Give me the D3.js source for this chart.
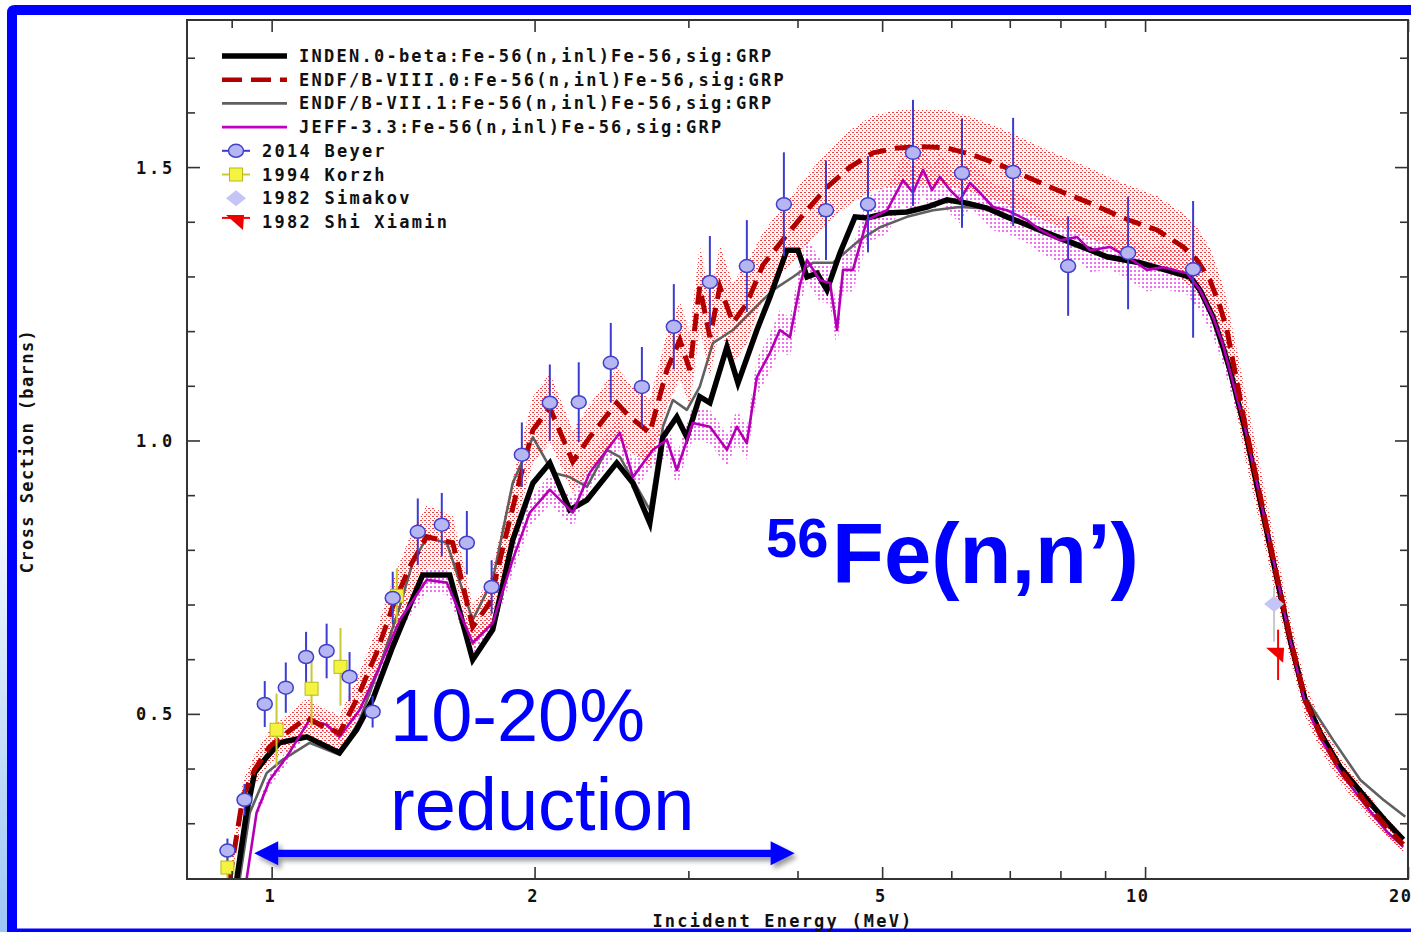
<!DOCTYPE html>
<html>
<head>
<meta charset="utf-8">
<script src="https://cdn.jsdelivr.net/npm/d3@7"></script>
<style>
  html, body { margin: 0; padding: 0; background: #fff; overflow: hidden; }
  svg { display: block; }
</style>
</head>
<body>
<svg id="chart" width="1411" height="932"></svg>
<script>
// ---------------- Evaluated cross sections (E in MeV, sigma in barns) ----------------
const indenE  = [0.912, 0.936, 0.956, 0.987, 1.021, 1.097, 1.196, 1.251, 1.305, 1.376, 1.428, 1.489, 1.599, 1.699, 1.791, 1.888, 1.991, 2.082, 2.194, 2.296, 2.484, 2.592, 2.710, 2.805, 2.910, 2.988, 3.091, 3.175, 3.321, 3.419, 3.594, 3.719, 3.890, 4.005, 4.101, 4.211, 4.323, 4.474, 4.655, 4.804, 5.065, 5.339, 5.628, 5.933, 6.254, 6.592, 6.950, 7.583, 8.272, 9.047, 9.869, 10.77, 11.26, 11.56, 11.96, 12.28, 12.51, 13.02, 13.54, 14.09, 14.66, 15.25, 15.87, 16.72, 17.97, 18.93, 19.75];
const indenXS = [0.197, 0.319, 0.392, 0.421, 0.447, 0.458, 0.429, 0.471, 0.526, 0.623, 0.685, 0.754, 0.754, 0.599, 0.654, 0.818, 0.922, 0.959, 0.873, 0.891, 0.959, 0.922, 0.849, 1.006, 1.043, 1.006, 1.080, 1.069, 1.171, 1.105, 1.202, 1.262, 1.348, 1.348, 1.299, 1.306, 1.275, 1.343, 1.409, 1.407, 1.416, 1.418, 1.427, 1.440, 1.434, 1.425, 1.409, 1.385, 1.361, 1.336, 1.325, 1.308, 1.299, 1.275, 1.226, 1.171, 1.129, 1.019, 0.891, 0.763, 0.635, 0.526, 0.465, 0.403, 0.343, 0.301, 0.270];

const endf8E  = [0.895, 0.927, 0.956, 0.995, 1.040, 1.097, 1.135, 1.196, 1.251, 1.319, 1.376, 1.439, 1.505, 1.612, 1.699, 1.777, 1.849, 1.923, 1.991, 2.082, 2.212, 2.313, 2.484, 2.571, 2.710, 2.835, 2.933, 3.011, 3.091, 3.175, 3.260, 3.374, 3.500, 3.652, 3.849, 4.101, 4.323, 4.594, 4.881, 5.200, 5.569, 5.933, 6.353, 6.823, 7.328, 7.931, 8.650, 9.437, 10.32, 11.06, 11.47, 11.87, 12.19, 12.41, 13.02, 13.54, 14.09, 14.66, 15.25, 15.87, 16.72, 17.97, 18.93, 19.75];
const endf8XS = [0.197, 0.348, 0.398, 0.440, 0.465, 0.493, 0.480, 0.465, 0.526, 0.612, 0.696, 0.769, 0.824, 0.813, 0.659, 0.703, 0.818, 0.928, 1.019, 1.060, 0.961, 1.006, 1.069, 1.043, 1.014, 1.129, 1.184, 1.129, 1.281, 1.189, 1.281, 1.215, 1.251, 1.321, 1.367, 1.421, 1.463, 1.500, 1.526, 1.535, 1.537, 1.535, 1.522, 1.504, 1.482, 1.458, 1.434, 1.407, 1.385, 1.354, 1.330, 1.293, 1.244, 1.202, 1.028, 0.900, 0.767, 0.639, 0.526, 0.462, 0.398, 0.334, 0.292, 0.261];
// relative uncertainty of ENDF/B-VIII.0 (covariance band)
const endf8Unc = [0.10, 0.08, 0.07, 0.07, 0.07, 0.07, 0.07, 0.07, 0.07, 0.07, 0.07, 0.07, 0.07,
                  0.06, 0.06, 0.06, 0.06, 0.06, 0.06, 0.06, 0.06, 0.06, 0.06, 0.06, 0.06, 0.06, 0.06, 0.06, 0.06, 0.06, 0.06, 0.06, 0.06,
                  0.045, 0.045, 0.045, 0.045, 0.045, 0.045, 0.045, 0.045, 0.045, 0.045, 0.045, 0.045, 0.045, 0.045, 0.045, 0.045, 0.045, 0.045, 0.045, 0.045, 0.045,
                  0.06, 0.06, 0.06, 0.06, 0.06, 0.06, 0.06, 0.06, 0.06, 0.06];

const endf71E  = [0.919, 0.944, 0.987, 1.029, 1.105, 1.196, 1.261, 1.329, 1.402, 1.450, 1.505, 1.587, 1.629, 1.699, 1.791, 1.888, 1.991, 2.099, 2.194, 2.296, 2.419, 2.504, 2.592, 2.710, 2.805, 2.880, 2.988, 3.091, 3.200, 3.374, 3.556, 3.749, 3.952, 4.167, 4.392, 4.716, 4.972, 5.339, 5.718, 6.140, 6.523, 6.950, 7.583, 8.272, 9.047, 9.869, 10.77, 11.26, 11.56, 11.96, 12.28, 13.02, 13.54, 14.09, 14.66, 15.25, 16.42, 17.64, 18.74, 19.86];
const endf71XS = [0.197, 0.319, 0.392, 0.416, 0.447, 0.425, 0.489, 0.586, 0.696, 0.776, 0.822, 0.813, 0.758, 0.672, 0.745, 0.922, 1.006, 0.941, 0.933, 0.915, 0.983, 0.970, 0.928, 0.873, 1.025, 1.074, 1.056, 1.098, 1.178, 1.202, 1.239, 1.275, 1.299, 1.325, 1.325, 1.367, 1.390, 1.409, 1.421, 1.427, 1.425, 1.407, 1.381, 1.357, 1.334, 1.323, 1.306, 1.297, 1.271, 1.220, 1.166, 1.016, 0.888, 0.760, 0.635, 0.531, 0.452, 0.379, 0.343, 0.312];

const jeffE  = [0.936, 0.961, 0.995, 1.040, 1.105, 1.156, 1.196, 1.261, 1.329, 1.402, 1.505, 1.587, 1.699, 1.791, 1.888, 1.975, 2.082, 2.212, 2.313, 2.504, 2.592, 2.732, 2.835, 2.910, 3.035, 3.175, 3.321, 3.409, 3.500, 3.594, 3.719, 3.818, 3.921, 4.026, 4.101, 4.244, 4.358, 4.439, 4.510, 4.630, 4.804, 5.065, 5.283, 5.424, 5.569, 5.702, 5.824, 5.980, 6.140, 6.304, 6.471, 6.698, 6.950, 7.328, 7.583, 7.993, 8.360, 8.650, 9.119, 9.537, 10.05, 10.49, 11.17, 11.56, 11.96, 12.28, 13.02, 13.54, 14.09, 14.66, 15.25, 15.87, 16.72, 17.97, 18.93, 19.75];
const jeffXS = [0.197, 0.319, 0.379, 0.421, 0.489, 0.480, 0.458, 0.507, 0.586, 0.672, 0.745, 0.740, 0.630, 0.666, 0.782, 0.868, 0.910, 0.868, 0.941, 1.014, 0.933, 0.983, 1.001, 0.946, 1.032, 1.025, 0.983, 1.025, 0.995, 1.116, 1.160, 1.202, 1.189, 1.284, 1.330, 1.293, 1.288, 1.202, 1.312, 1.312, 1.403, 1.421, 1.476, 1.453, 1.495, 1.458, 1.482, 1.458, 1.440, 1.471, 1.453, 1.427, 1.421, 1.403, 1.385, 1.366, 1.372, 1.348, 1.354, 1.336, 1.312, 1.317, 1.306, 1.275, 1.226, 1.175, 1.022, 0.895, 0.767, 0.635, 0.520, 0.456, 0.394, 0.328, 0.284, 0.257];
// relative uncertainty of JEFF-3.3
const jeffUnc = 0.03;

// ---------------- Experimental data ----------------
const beyerE   = [0.890, 0.931, 0.982, 1.038, 1.095, 1.156, 1.228, 1.305, 1.376, 1.470, 1.566, 1.673, 1.786, 1.934, 2.082, 2.247, 2.445, 2.654, 2.887, 3.175, 3.500, 3.859, 4.312, 4.817, 5.424, 6.172, 7.062, 8.164, 9.562, 11.35];
const beyerXS  = [0.250, 0.343, 0.518, 0.548, 0.604, 0.615, 0.568, 0.504, 0.712, 0.833, 0.846, 0.813, 0.732, 0.974, 1.069, 1.070, 1.142, 1.098, 1.208, 1.290, 1.319, 1.432, 1.421, 1.432, 1.526, 1.489, 1.491, 1.319, 1.343, 1.313];
const beyerErr = [0.022, 0.029, 0.042, 0.046, 0.046, 0.050, 0.045, 0.029, 0.048, 0.061, 0.058, 0.058, 0.049, 0.059, 0.070, 0.073, 0.073, 0.073, 0.078, 0.084, 0.084, 0.095, 0.091, 0.088, 0.097, 0.100, 0.099, 0.091, 0.103, 0.125];

const korzhE   = [0.890, 1.013, 1.111, 1.199, 1.391];
const korzhXS  = [0.219, 0.471, 0.546, 0.586, 0.716];
const korzhErr = [0.020, 0.066, 0.068, 0.071, 0.050];

const simakovE     = [14.05];
const simakovXS    = [0.701];
const simakovErrLo = [0.069];
const simakovErrHi = [0.031];

const shiE   = [14.20];
const shiXS  = [0.608];
const shiErr = [0.046];

// ---------------- Axis ticks and labels ----------------
const xMajorTicks = [1, 2, 5, 10, 20];
const xMinorTicks = [0.9, 3, 4, 6, 7, 8, 9];
const yMajorTicks = [0.5, 1.0, 1.5];
const yMinorTicks = [0.3, 0.4, 0.6, 0.7, 0.8, 0.9, 1.1, 1.2, 1.3, 1.4, 1.6, 1.7];
const xTitle = "Incident Energy (MeV)";
const yTitle = "Cross Section (barns)";

const legendLabels = [
  "INDEN.0-beta:Fe-56(n,inl)Fe-56,sig:GRP",
  "ENDF/B-VIII.0:Fe-56(n,inl)Fe-56,sig:GRP",
  "ENDF/B-VII.1:Fe-56(n,inl)Fe-56,sig:GRP",
  "JEFF-3.3:Fe-56(n,inl)Fe-56,sig:GRP",
  "2014 Beyer",
  "1994 Korzh",
  "1982 Simakov",
  "1982 Shi Xiamin"
];

// annotation arrow span (MeV) and height (barns)
const arrowFromE = 0.955, arrowToE = 3.97, arrowXS = 0.245;

// ---------------- Drawing ----------------
const svg = d3.select("#chart");
const W = 1411, H = 932;
const plot = { left: 187, right: 1408, top: 20, bottom: 879 };
const MONO = "'DejaVu Sans Mono', 'Liberation Mono', monospace";
const SANS = "'Liberation Sans', Arial, Helvetica, sans-serif";
const BLUE = "#0000ff";

const x = d3.scaleLog().domain([0.8, 20]).range([plot.left, plot.right]);
const y = d3.scaleLinear().domain([0.198, 1.769]).range([plot.bottom, plot.top]);

const defs = svg.append("defs");
defs.append("clipPath").attr("id", "plotClip")
  .append("rect").attr("x", plot.left).attr("y", plot.top)
  .attr("width", plot.right - plot.left).attr("height", plot.bottom - plot.top);

// stippled fills for the uncertainty bands
function dotPattern(id, color, size, dots) {
  const p = defs.append("pattern").attr("id", id)
    .attr("patternUnits", "userSpaceOnUse").attr("width", 4).attr("height", 4);
  dots.forEach(([dx, dy]) => p.append("rect").attr("x", dx).attr("y", dy)
    .attr("width", size).attr("height", size).attr("fill", color).attr("shape-rendering", "crispEdges"));
}
dotPattern("redDots", "#e81010", 1, [[0, 0], [2, 2], [1, 0]]);
dotPattern("pinkDots", "#f070f0", 2, [[2, 2]]);

const edgeGrad = defs.append("linearGradient").attr("id", "edgeGrad")
  .attr("x1", 0).attr("y1", 0).attr("x2", 0).attr("y2", 1);
edgeGrad.append("stop").attr("offset", "0%").attr("stop-color", "#ffffff");
edgeGrad.append("stop").attr("offset", "50%").attr("stop-color", "#ffffff");
edgeGrad.append("stop").attr("offset", "100%").attr("stop-color", "#9cc6f6");

const shadow = defs.append("filter").attr("id", "arrowShadow")
  .attr("x", "-10%").attr("y", "-100%").attr("width", "120%").attr("height", "300%");
shadow.append("feDropShadow").attr("dx", 3).attr("dy", 4).attr("stdDeviation", 2.5)
  .attr("flood-color", "#000").attr("flood-opacity", 0.4);

// page background and blue slide frame
svg.append("rect").attr("width", W).attr("height", H).attr("fill", "#fff");
svg.append("rect").attr("x", 0).attr("y", 0).attr("width", 7).attr("height", H).attr("fill", "url(#edgeGrad)");
svg.append("path").attr("fill", BLUE)
  .attr("d", `M7,${H} L7,13 Q7,5 15,5 L${W},5 L${W},15 L17,15 L17,${H} Z`);
svg.append("rect").attr("x", 7).attr("y", 928.5).attr("width", W - 7).attr("height", 3.5).attr("fill", BLUE);

// ---------------- data layers ----------------
const layer = svg.append("g").attr("clip-path", "url(#plotClip)");

const line = d3.line().x(d => x(d[0])).y(d => y(d[1]));
const band = d3.area().x(d => x(d[0]))
  .y0(d => y(d[1] * (1 - d[2]))).y1(d => y(d[1] * (1 + d[2])));

const endf8Pts = d3.zip(endf8E, endf8XS, endf8Unc);
const jeffPts = jeffE.map((e, i) => [e, jeffXS[i], jeffUnc]);

layer.append("path").datum(jeffPts).attr("d", band).attr("fill", "url(#pinkDots)");
layer.append("path").datum(endf8Pts).attr("d", band).attr("fill", "url(#redDots)").attr("opacity", 0.8);

layer.append("path").datum(d3.zip(endf71E, endf71XS)).attr("d", line)
  .attr("fill", "none").attr("stroke", "#606060").attr("stroke-width", 2.6).attr("stroke-linejoin", "round");
layer.append("path").datum(d3.zip(indenE, indenXS)).attr("d", line)
  .attr("fill", "none").attr("stroke", "#000").attr("stroke-width", 5.5).attr("stroke-linejoin", "miter");
layer.append("path").datum(d3.zip(jeffE, jeffXS)).attr("d", line)
  .attr("fill", "none").attr("stroke", "#b400b4").attr("stroke-width", 2.6).attr("stroke-linejoin", "round");
layer.append("path").datum(d3.zip(endf8E, endf8XS)).attr("d", line)
  .attr("fill", "none").attr("stroke", "#b00000").attr("stroke-width", 5)
  .attr("stroke-dasharray", "18,9");

// error bars + markers
function errorBars(g, E, XS, lo, hi, color) {
  g.selectAll(null).data(d3.range(E.length)).join("line")
    .attr("x1", i => x(E[i])).attr("x2", i => x(E[i]))
    .attr("y1", i => y(XS[i] - lo[i])).attr("y2", i => y(XS[i] + hi[i]))
    .attr("stroke", color).attr("stroke-width", 2);
}
const marks = svg.append("g").attr("clip-path", "url(#plotClip)");

errorBars(marks, korzhE, korzhXS, korzhErr, korzhErr, "#c8c830");
errorBars(marks, beyerE, beyerXS, beyerErr, beyerErr, "#3c3cd0");
errorBars(marks, simakovE, simakovXS, simakovErrLo, simakovErrHi, "#c8c8c8");
errorBars(marks, shiE, shiXS, shiErr, shiErr, "#ff0000");

marks.selectAll(null).data(d3.range(korzhE.length)).join("rect")
  .attr("x", i => x(korzhE[i]) - 6.5).attr("y", i => y(korzhXS[i]) - 6.5)
  .attr("width", 13).attr("height", 13)
  .attr("fill", "#f4f440").attr("stroke", "#b8b820").attr("stroke-width", 1);

marks.selectAll(null).data(d3.range(beyerE.length)).join("ellipse")
  .attr("cx", i => x(beyerE[i])).attr("cy", i => y(beyerXS[i]))
  .attr("rx", 7.5).attr("ry", 6.5)
  .attr("fill", "#b6b6f2").attr("stroke", "#4040cc").attr("stroke-width", 1.5);

const diamond = (cx, cy) => `M${cx - 10},${cy} L${cx},${cy - 8} L${cx + 10},${cy} L${cx},${cy + 8} Z`;
const flag = (cx, cy) => `M${cx - 12},${cy - 7} L${cx + 6},${cy - 7} L${cx + 5},${cy + 8} Z`;

marks.selectAll(null).data(d3.range(simakovE.length)).join("path")
  .attr("d", i => diamond(x(simakovE[i]), y(simakovXS[i])))
  .attr("fill", "#c4c4f6");
marks.selectAll(null).data(d3.range(shiE.length)).join("path")
  .attr("d", i => flag(x(shiE[i]), y(shiXS[i])))
  .attr("fill", "#ee0000");

// ---------------- axes ----------------
const axes = svg.append("g").attr("font-family", MONO).attr("font-weight", "bold");
const tickColor = "#333";

function styleAxis(g) {
  g.select(".domain").remove();
  g.selectAll(".tick line").attr("stroke", tickColor).attr("stroke-width", 1.6);
}

axes.append("g").attr("transform", `translate(0,${plot.bottom})`)
  .call(d3.axisBottom(x).tickValues(xMajorTicks).tickSize(-12).tickFormat(d3.format("d")))
  .call(styleAxis)
  .call(g => g.selectAll(".tick text")
    .attr("text-anchor", "end").attr("x", 4).attr("y", 11).attr("dy", "0.71em")
    .attr("fill", "#111").attr("font-size", 17).attr("font-family", MONO).attr("font-weight", "bold")
    .attr("letter-spacing", 1.5));
axes.append("g").attr("transform", `translate(0,${plot.bottom})`)
  .call(d3.axisBottom(x).tickValues(xMinorTicks).tickSize(-8).tickFormat(""))
  .call(styleAxis);
axes.append("g").attr("transform", `translate(0,${plot.top})`)
  .call(d3.axisTop(x).tickValues(xMajorTicks).tickSize(-12).tickFormat(""))
  .call(styleAxis);
axes.append("g").attr("transform", `translate(0,${plot.top})`)
  .call(d3.axisTop(x).tickValues(xMinorTicks).tickSize(-8).tickFormat(""))
  .call(styleAxis);

axes.append("g").attr("transform", `translate(${plot.left},0)`)
  .call(d3.axisLeft(y).tickValues(yMajorTicks).tickSize(-13).tickFormat(d3.format(".1f")))
  .call(styleAxis)
  .call(g => g.selectAll(".tick text")
    .attr("x", -12).attr("dy", "0.36em")
    .attr("fill", "#111").attr("font-size", 17).attr("font-family", MONO).attr("font-weight", "bold")
    .attr("letter-spacing", 2.8));
axes.append("g").attr("transform", `translate(${plot.left},0)`)
  .call(d3.axisLeft(y).tickValues(yMinorTicks).tickSize(-8).tickFormat(""))
  .call(styleAxis);
axes.append("g").attr("transform", `translate(${plot.right},0)`)
  .call(d3.axisRight(y).tickValues(yMajorTicks).tickSize(-13).tickFormat(""))
  .call(styleAxis);
axes.append("g").attr("transform", `translate(${plot.right},0)`)
  .call(d3.axisRight(y).tickValues(yMinorTicks).tickSize(-8).tickFormat(""))
  .call(styleAxis);

// plot frame
svg.append("rect").attr("x", plot.left).attr("y", plot.top)
  .attr("width", plot.right - plot.left).attr("height", plot.bottom - plot.top)
  .attr("fill", "none").attr("stroke", "#333").attr("stroke-width", 2);

// axis titles
svg.append("text").attr("x", 783).attr("y", 927)
  .attr("text-anchor", "middle").attr("font-family", MONO).attr("font-weight", "bold")
  .attr("font-size", 17).attr("letter-spacing", 2.2).attr("fill", "#111").text(xTitle);
svg.append("text").attr("transform", "translate(33,451) rotate(-90)")
  .attr("text-anchor", "middle").attr("font-family", MONO).attr("font-weight", "bold")
  .attr("font-size", 17).attr("letter-spacing", 1.4).attr("fill", "#111").text(yTitle);

// ---------------- legend ----------------
const legend = svg.append("g");
const rowY = i => 56 + i * 23.7;
const lineStyles = [
  { stroke: "#000", width: 5.5, dash: null },
  { stroke: "#b00000", width: 4.5, dash: "20,9" },
  { stroke: "#606060", width: 2.6, dash: null },
  { stroke: "#c000c0", width: 2.6, dash: null }
];
lineStyles.forEach((s, i) => {
  legend.append("line").attr("x1", 222).attr("x2", 287).attr("y1", rowY(i)).attr("y2", rowY(i))
    .attr("stroke", s.stroke).attr("stroke-width", s.width).attr("stroke-dasharray", s.dash);
});
// marker rows
legend.append("line").attr("x1", 222).attr("x2", 250).attr("y1", rowY(4)).attr("y2", rowY(4))
  .attr("stroke", "#3c3cd0").attr("stroke-width", 2);
legend.append("ellipse").attr("cx", 236).attr("cy", rowY(4)).attr("rx", 7.5).attr("ry", 6.5)
  .attr("fill", "#b6b6f2").attr("stroke", "#4040cc").attr("stroke-width", 1.5);
legend.append("line").attr("x1", 222).attr("x2", 250).attr("y1", rowY(5)).attr("y2", rowY(5))
  .attr("stroke", "#c8c830").attr("stroke-width", 2);
legend.append("rect").attr("x", 229.5).attr("y", rowY(5) - 6.5).attr("width", 13).attr("height", 13)
  .attr("fill", "#f4f440").attr("stroke", "#b8b820");
legend.append("path").attr("d", diamond(236, rowY(6))).attr("fill", "#c4c4f6");
legend.append("line").attr("x1", 222).attr("x2", 250).attr("y1", rowY(7) - 4).attr("y2", rowY(7) - 4)
  .attr("stroke", "#ff0000").attr("stroke-width", 2);
legend.append("path").attr("d", flag(238, rowY(7))).attr("fill", "#ee0000");

legend.selectAll("text").data(legendLabels).join("text")
  .attr("x", (d, i) => i < 4 ? 299 : 262)
  .attr("y", (d, i) => rowY(i) + 6)
  .attr("font-family", MONO).attr("font-weight", "bold").attr("font-size", 17)
  .attr("letter-spacing", 2.25).attr("fill", "#111")
  .text(d => d);

// ---------------- annotations ----------------
const ax0 = x(arrowFromE), ax1 = x(arrowToE), ay = y(arrowXS);
const headLen = 24, headHalf = 12, shaftHalf = 3.6;
svg.append("path").attr("fill", BLUE).attr("filter", "url(#arrowShadow)")
  .attr("d", `M${ax0},${ay} L${ax0 + headLen},${ay - headHalf} L${ax0 + headLen},${ay - shaftHalf}
              L${ax1 - headLen},${ay - shaftHalf} L${ax1 - headLen},${ay - headHalf} L${ax1},${ay}
              L${ax1 - headLen},${ay + headHalf} L${ax1 - headLen},${ay + shaftHalf}
              L${ax0 + headLen},${ay + shaftHalf} L${ax0 + headLen},${ay + headHalf} Z`);

svg.append("text").attr("x", 390).attr("y", 741)
  .attr("font-family", SANS).attr("font-size", 74).attr("fill", BLUE).text("10-20%");
svg.append("text").attr("x", 390).attr("y", 830)
  .attr("font-family", SANS).attr("font-size", 74).attr("fill", BLUE).text("reduction");

const title = svg.append("text").attr("font-family", SANS).attr("font-weight", "bold").attr("fill", BLUE);
title.append("tspan").attr("x", 766).attr("y", 557).attr("font-size", 56).text("56");
title.append("tspan").attr("x", 832).attr("y", 583).attr("font-size", 85).text("Fe(n,n\u2019)");
</script>
</body>
</html>
